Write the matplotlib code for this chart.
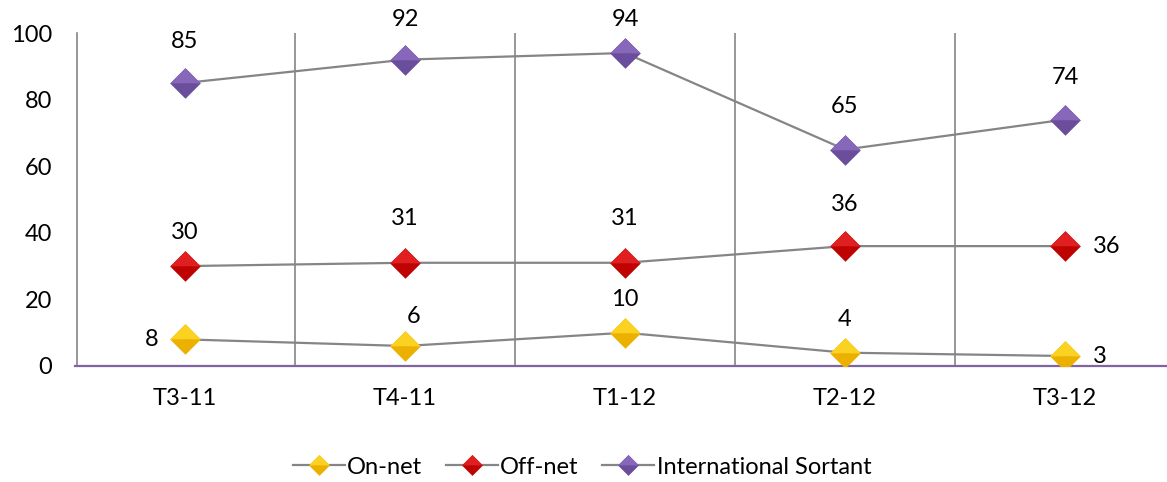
#!/usr/bin/env python3

'''
line chart of traffic per quarter, three series with two-tone diamond markers
'''

import matplotlib
matplotlib.use('Agg')
import matplotlib.pyplot as plt
from matplotlib.path import Path
from matplotlib.lines import Line2D
from matplotlib.legend_handler import HandlerTuple

QUARTERS = ['T3-11', 'T4-11', 'T1-12', 'T2-12', 'T3-12']
ON_NET = [8, 6, 10, 4, 3]
OFF_NET = [30, 31, 31, 36, 36]
INTERNATIONAL = [85, 92, 94, 65, 74]
SERIES_NAMES = ['On-net', 'Off-net', 'International Sortant']

# dark body / light upper half for each series
FACETS = {
    'On-net': ['#ecb000', '#fbd222'],
    'Off-net': ['#bf0202', '#e02020'],
    'International Sortant': ['#6a4d9b', '#8667b9'],
}

# full diamond, then its upper half drawn on top
SHAPES = [
    Path([(-1, 0), (0, 1), (1, 0), (0, -1), (-1, 0)], closed=True),
    Path([(-1, 0), (0, 1), (1, 0), (0, 0.02), (-1, 0)], closed=True),
]

# (dx, dy) in points, ha for every data label
LABEL_POS = {
    'On-net': [(-19, 0, 'right'), (6, 21, 'center'), (0, 24, 'center'),
               (0, 24, 'center'), (20, 0, 'left')],
    'Off-net': [(0, 24, 'center'), (0, 32, 'center'), (0, 32, 'center'),
                (0, 30, 'center'), (20, 0, 'left')],
    'International Sortant': [(0, 30, 'center'), (0, 29, 'center'), (0, 24, 'center'),
                              (0, 31, 'center'), (0, 30, 'center')],
}

GREY = '#858585'
FONT = ['Lato', 'DejaVu Sans']


def diamond(ax, x, y, name, size, zorder=3):
    '''draws the two tones of the marker'''
    for path, col in zip(SHAPES, FACETS[name]):
        ax.plot(x, y, linestyle='none', marker=path, markersize=size,
                markerfacecolor=col, markeredgewidth=0, zorder=zorder)


def plot_chart():
    plt.rcParams['font.family'] = FONT
    fig = plt.figure(figsize=(11.67, 4.82), dpi=100)
    ax = fig.add_axes([75 / 1167, 116 / 482, 1100 / 1167, 333 / 482])

    x = list(range(len(QUARTERS)))
    handles = []
    for name, vals in zip(SERIES_NAMES, [ON_NET, OFF_NET, INTERNATIONAL]):
        ax.plot(x, vals, color=GREY, linewidth=1.6, zorder=2)
        diamond(ax, x, vals, name, 22)
        for xi, v, (dx, dy, ha) in zip(x, vals, LABEL_POS[name]):
            ax.annotate(str(v), (xi, v), xytext=(dx, dy), textcoords='offset points',
                        ha=ha, va='center', fontsize=17, color='black')
        # legend proxy: grey line plus a two-tone diamond
        proxy = [Line2D([], [], color=GREY, linewidth=1.6)]
        for path, col in zip(SHAPES, FACETS[name]):
            proxy.append(Line2D([], [], linestyle='none', marker=path, markersize=15,
                                markerfacecolor=col, markeredgewidth=0))
        handles.append(tuple(proxy))

    ax.set_xlim(-0.5, len(QUARTERS) - 0.5)
    ax.set_ylim(0, 100)
    ax.set_yticks(range(0, 101, 20))
    ax.set_xticks(x)
    ax.set_xticklabels(QUARTERS)
    ax.tick_params(axis='both', length=0, labelsize=17)
    ax.tick_params(axis='x', pad=16)
    ax.tick_params(axis='y', pad=18)

    # vertical separators between quarters
    for b in [i + 0.5 for i in x[:-1]]:
        ax.axvline(b, color=GREY, linewidth=1.2, zorder=1)

    for side in ['top', 'right']:
        ax.spines[side].set_visible(False)
    ax.spines['left'].set_color(GREY)
    ax.spines['left'].set_linewidth(1.2)
    ax.spines['left'].set_position(('data', -0.49))
    ax.spines['bottom'].set_color('#8064a2')
    ax.spines['bottom'].set_linewidth(1.6)

    fig.legend(handles, SERIES_NAMES, loc='center', bbox_to_anchor=(582 / 1167, 1 - 467 / 482),
               ncol=3, frameon=False, fontsize=17, handlelength=2.2, handletextpad=0.1,
               columnspacing=1.0, handler_map={tuple: HandlerTuple(ndivide=1)})

    fig.savefig('out.png', dpi=100)


if __name__ == '__main__':
    plot_chart()
